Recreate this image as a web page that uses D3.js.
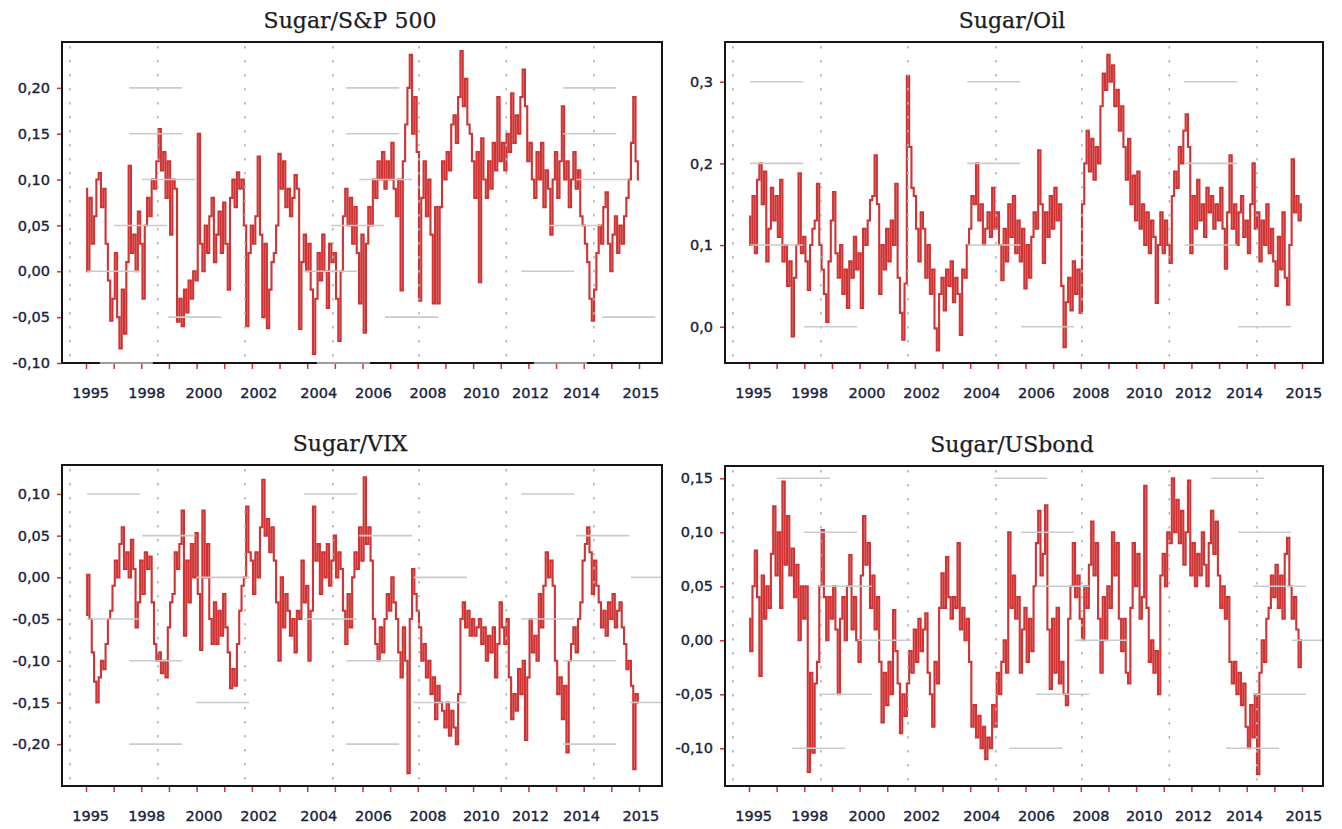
<!DOCTYPE html>
<html>
<head>
<meta charset="utf-8">
<script src="https://cdn.jsdelivr.net/npm/d3@7"></script>
<style>
body{margin:0;background:#fff}
.title{font-family:"DejaVu Serif",serif;font-size:22px;fill:#1c1c24;stroke:#1c1c24;stroke-width:0.25}
.tick text{font-family:"DejaVu Sans",sans-serif;font-size:14.5px;fill:#17223c;stroke:#17223c;stroke-width:0.35}
</style>
</head>
<body>
<div id="chart"></div>
<script>
//monthly values, first one is January 1995
let startYear=1995
let xLabels=["1995","1998","2000","2002","2004","2006","2008","2010","2012","2014","2015"]
//where the labels sit on the year axis (they are not on their own year in the original)
let xLabelAt=[1995.15,1997.18,1999.25,2001.23,2003.4,2005.38,2007.35,2009.28,2011.06,2012.9,2015.05]
let xTickYears=d3.range(1995,2016)
let dottedYears=[1994.42,1997.6,2000.75,2003.93,2007.04,2010.2,2013.37]

let sugarSp500=[
 0.09,0.0,0.08,0.03,0.06,0.10,0.107,0.07,0.09,0.03,-0.01,-0.054,
 -0.03,0.02,-0.05,-0.084,-0.02,-0.068,0.01,0.115,0.02,0.04,0.0,0.065,
 0.03,-0.03,0.05,0.08,0.06,0.10,0.09,0.12,0.155,0.11,0.13,0.08,
 0.12,0.04,0.10,0.09,-0.055,-0.03,-0.06,-0.02,-0.045,-0.01,-0.03,0.0,
 -0.01,0.15,0.03,0.0,0.05,0.02,0.06,0.08,0.01,0.04,0.065,0.02,
 0.075,0.03,-0.02,0.08,0.10,0.07,0.108,0.09,0.10,0.05,-0.06,0.02,
 0.05,0.03,0.06,0.125,0.04,-0.05,0.03,-0.062,-0.02,0.01,0.02,0.05,
 0.128,0.09,0.12,0.07,0.09,0.06,0.08,0.105,0.09,-0.063,0.01,0.04,
 0.0,0.03,-0.02,-0.09,-0.03,0.02,-0.01,0.04,0.0,-0.04,0.03,0.01,
 0.02,-0.03,-0.076,0.0,0.06,0.09,0.05,0.08,0.03,0.07,0.02,-0.035,
 0.04,-0.067,0.03,0.07,0.05,0.10,0.08,0.12,0.10,0.13,0.09,0.12,
 0.10,0.14,0.09,0.06,0.10,-0.021,0.12,0.16,0.20,0.236,0.15,0.19,
 0.13,-0.032,0.08,0.12,0.06,0.10,0.04,-0.035,0.07,-0.035,0.07,0.12,
 0.10,0.13,0.11,0.16,0.17,0.14,0.19,0.24,0.18,0.21,0.16,0.15,
 0.12,0.08,0.13,-0.012,0.145,0.10,0.08,0.12,0.09,0.14,0.11,0.19,
 0.12,0.14,0.11,0.15,0.13,0.194,0.14,0.17,0.15,0.19,0.22,0.18,
 0.12,0.14,0.10,0.08,0.13,0.10,0.14,0.07,0.11,0.09,0.04,0.10,
 0.13,0.08,0.12,0.18,0.10,0.12,0.07,0.10,0.13,0.09,0.11,0.06,
 0.05,0.03,0.01,-0.03,-0.054,-0.02,0.02,0.05,0.03,0.07,0.086,0.03,
 0.0,0.04,0.06,0.02,0.05,0.03,0.06,0.08,0.10,0.14,0.19,0.12,
 0.10]

let sugarOil=[
 0.135,0.10,0.16,0.09,0.18,0.20,0.15,0.19,0.08,0.12,0.17,0.13,
 0.16,0.11,0.18,0.08,0.10,0.05,0.08,-0.012,0.06,0.10,0.188,0.09,
 0.11,0.08,0.045,0.10,0.12,0.13,0.175,0.10,0.07,0.04,0.006,0.08,
 0.13,0.165,0.09,0.06,0.10,0.04,0.07,0.023,0.08,0.06,0.11,0.07,
 0.09,0.023,0.12,0.10,0.13,0.155,0.16,0.21,0.15,0.04,0.10,0.07,
 0.12,0.08,0.13,0.10,0.175,0.06,0.017,-0.016,0.053,0.307,0.22,0.17,
 0.16,0.12,0.08,0.14,0.12,0.06,0.10,0.04,0.07,-0.002,-0.029,0.04,
 0.06,0.02,0.07,0.05,0.08,0.03,0.06,0.04,-0.01,0.07,0.06,0.10,
 0.12,0.16,0.15,0.20,0.13,0.15,0.10,0.12,0.14,0.11,0.17,0.12,
 0.14,0.10,0.057,0.12,0.08,0.15,0.11,0.16,0.09,0.13,0.08,0.12,
 0.047,0.10,0.06,0.11,0.14,0.12,0.216,0.15,0.078,0.14,0.11,0.16,
 0.12,0.17,0.13,0.15,0.05,-0.025,0.03,0.06,0.02,0.08,0.04,0.07,
 0.017,0.15,0.20,0.24,0.19,0.23,0.18,0.22,0.20,0.27,0.31,0.29,
 0.333,0.30,0.32,0.27,0.29,0.24,0.27,0.22,0.18,0.23,0.15,0.185,
 0.13,0.19,0.12,0.15,0.10,0.14,0.09,0.13,0.11,0.029,0.10,0.14,
 0.09,0.13,0.10,0.078,0.16,0.19,0.17,0.22,0.20,0.24,0.26,0.22,
 0.09,0.16,0.12,0.18,0.13,0.15,0.11,0.17,0.14,0.16,0.12,0.15,
 0.13,0.17,0.12,0.071,0.14,0.21,0.12,0.15,0.10,0.14,0.16,0.11,
 0.13,0.09,0.15,0.20,0.12,0.14,0.08,0.13,0.10,0.15,0.09,0.12,
 0.08,0.05,0.11,0.07,0.14,0.06,0.027,0.10,0.205,0.14,0.16,0.13,
 0.15]

let sugarVix=[
 -0.045,0.003,-0.05,-0.09,-0.125,-0.15,-0.12,-0.10,-0.11,-0.08,-0.05,-0.04,
 -0.01,0.02,0.0,0.04,0.06,0.01,0.03,0.0,0.045,0.01,-0.06,-0.03,
 0.02,-0.02,0.03,0.01,0.025,-0.03,-0.08,-0.10,-0.09,-0.115,-0.10,-0.12,
 -0.06,-0.03,-0.02,0.03,0.01,0.04,0.08,-0.07,0.02,-0.03,0.04,0.0,
 0.053,-0.02,-0.087,0.08,0.0,0.04,-0.05,-0.08,-0.03,-0.08,-0.04,-0.07,
 -0.02,-0.06,-0.09,-0.133,-0.11,-0.13,-0.08,-0.04,-0.01,0.0,0.085,0.03,
 0.02,-0.02,0.03,0.0,0.06,0.117,0.05,0.07,0.03,0.06,0.02,-0.03,
 -0.10,0.0,-0.06,-0.02,-0.04,-0.07,-0.05,-0.09,-0.04,-0.05,0.02,-0.03,
 -0.01,-0.10,-0.04,0.085,0.02,0.04,-0.02,0.03,0.0,0.04,-0.01,0.02,
 0.05,0.0,0.03,0.01,-0.04,-0.08,-0.02,-0.06,0.0,0.03,0.01,0.06,
 0.02,0.12,0.04,0.06,0.02,-0.05,-0.08,-0.10,-0.06,-0.09,-0.05,-0.02,
 -0.04,0.0,-0.03,-0.05,-0.09,-0.12,-0.06,-0.10,-0.235,-0.05,0.01,-0.02,
 -0.04,-0.06,-0.10,-0.08,-0.12,-0.10,-0.14,-0.12,-0.17,-0.13,-0.15,-0.16,
 -0.18,-0.15,-0.19,-0.16,-0.18,-0.20,-0.14,-0.05,-0.03,-0.06,-0.04,-0.07,
 -0.05,-0.07,-0.06,-0.05,-0.08,-0.06,-0.10,-0.07,-0.09,-0.06,-0.12,-0.08,
 -0.03,-0.06,-0.08,-0.05,-0.12,-0.17,-0.14,-0.16,-0.11,-0.14,-0.10,-0.195,
 -0.12,-0.05,-0.09,-0.07,-0.10,-0.02,-0.06,-0.01,0.03,0.0,0.02,-0.01,
 -0.10,-0.14,-0.12,-0.17,-0.13,-0.21,-0.10,-0.08,-0.06,-0.09,-0.05,-0.03,
 0.02,0.04,0.06,0.03,-0.02,0.02,-0.01,-0.03,-0.06,-0.04,-0.07,-0.03,
 -0.05,-0.02,-0.06,-0.04,-0.03,-0.06,-0.08,-0.11,-0.10,-0.13,-0.23,-0.14,
 -0.15]

let sugarUsbond=[
 0.02,-0.01,0.05,0.083,0.04,-0.033,0.06,0.02,0.05,0.03,0.08,0.124,
 0.06,0.10,0.03,0.147,0.07,0.115,0.06,0.085,0.04,0.07,0.0,0.05,
 0.02,0.05,-0.122,-0.03,-0.104,-0.04,-0.02,0.05,0.102,0.04,0.0,0.04,
 0.02,0.05,0.01,-0.05,0.02,0.04,0.0,0.05,0.079,0.01,0.04,0.0,
 -0.02,0.06,0.115,0.07,0.09,0.03,0.06,0.01,0.04,-0.02,-0.076,-0.03,
 -0.06,-0.02,-0.05,0.028,-0.01,-0.04,-0.086,-0.05,-0.07,-0.04,-0.01,-0.03,
 0.01,-0.02,0.02,-0.01,0.01,0.025,-0.03,-0.05,-0.08,-0.02,-0.04,0.03,
 0.062,0.03,0.077,0.04,0.02,0.04,0.03,0.09,0.01,0.03,0.0,0.02,
 -0.02,-0.08,-0.06,-0.09,-0.07,-0.10,-0.08,-0.11,-0.09,-0.10,-0.06,-0.08,
 -0.03,-0.05,-0.02,0.0,-0.03,0.10,0.03,0.06,0.02,0.04,-0.03,0.01,
 0.03,-0.02,0.02,-0.01,0.05,0.09,0.12,0.06,0.08,0.125,0.01,-0.045,
 0.02,-0.03,0.03,-0.04,-0.02,-0.05,-0.06,0.02,0.05,0.09,0.04,0.06,
 0.02,0.0,0.05,0.03,0.07,0.11,0.06,0.09,0.02,-0.03,0.04,0.0,
 0.05,0.03,0.10,0.06,0.09,0.02,-0.01,0.02,-0.03,-0.04,0.03,0.09,
 0.05,0.08,0.02,0.04,0.143,0.03,-0.02,0.0,-0.03,-0.01,-0.05,0.06,
 0.08,0.05,0.10,0.09,0.15,0.10,0.13,0.09,0.12,0.07,0.10,0.148,
 0.06,0.09,0.05,0.08,0.06,0.10,0.07,0.05,0.09,0.12,0.08,0.11,
 0.06,0.03,0.05,0.02,0.04,-0.02,-0.04,-0.02,-0.05,-0.03,-0.06,-0.04,
 -0.08,-0.10,-0.06,-0.09,-0.05,-0.124,-0.03,0.0,-0.02,0.02,0.03,0.06,
 0.04,0.07,0.03,0.06,0.02,0.08,0.095,0.05,0.02,0.04,0.01,-0.025,
 0.0]

//y ticks of each panel
let sp500Ticks=[-0.10,-0.05,0,0.05,0.10,0.15,0.20]
let oilTicks=[0,0.1,0.2,0.3]
let vixTicks=[-0.20,-0.15,-0.10,-0.05,0,0.05,0.10]
let usbondTicks=[-0.10,-0.05,0,0.05,0.10,0.15]

//the original only shows short pieces of the horizontal grid: [tick, year where the first piece starts]
let sp500Pieces=[[-0.10,1995.5],[-0.05,1997.97],[0,1995.04],[0.05,1996.01],[0.10,1997.03],[0.15,1996.56],[0.20,1996.56]]
let oilPieces=[[0,1996.99],[0.1,1995.04],[0.2,1995.04],[0.3,1995.04]]
let vixPieces=[[-0.20,1996.56],[-0.15,1998.98],[-0.10,1996.56],[-0.05,1995.04],[0,1999.01],[0.05,1997.03],[0.10,1995.04]]
let usbondPieces=[[-0.10,1996.56],[-0.05,1997.53],[0,1998.94],[0.05,1997.53],[0.10,1996.99],[0.15,1996.01]]

let locale=d3.formatLocale({decimal:",",thousands:".",grouping:[3],currency:["",""],minus:"-"})

let panels=[
    {title:"Sugar/S&P 500",values:sugarSp500,ticks:sp500Ticks,pieces:sp500Pieces,domain:[-0.10,0.25],fmt:".2f",left:62,top:42,right:662,bottom:363},
    {title:"Sugar/Oil",values:sugarOil,ticks:oilTicks,pieces:oilPieces,domain:[-0.0444,0.3486],fmt:".1f",left:725,top:42,right:1323,bottom:363},
    {title:"Sugar/VIX",values:sugarVix,ticks:vixTicks,pieces:vixPieces,domain:[-0.2502,0.1347],fmt:".2f",left:62,top:465,right:662,bottom:786},
    {title:"Sugar/USbond",values:sugarUsbond,ticks:usbondTicks,pieces:usbondPieces,domain:[-0.1349,0.1614],fmt:".2f",left:725,top:466,right:1323,bottom:786}
]

let red="#d03333"
let svg=d3.select("#chart").append("svg").attr("width",1342).attr("height",829)

panels.forEach(p=>drawPanel(p))

function drawPanel(p){
    let g=svg.append("g")
    let x=d3.scaleLinear().domain([1995,2015]).range([p.left+24,p.left+577])
    let y=d3.scaleLinear().domain(p.domain).range([p.bottom,p.top])
    let data=p.values.map((v,i)=>({t:startYear+i/12,v:v}))

    //title
    g.append("text").attr("class","title").attr("x",(p.left+p.right)/2-12).attr("y",p.top-14).attr("text-anchor","middle").text(p.title)

    //the series
    let line=d3.line().x(d=>x(d.t)).y(d=>y(d.v)).curve(d3.curveStep)
    g.append("path").datum(data).attr("d",line).attr("fill","none").attr("stroke",red).attr("stroke-width",2.1)

    //frame
    g.append("rect").attr("x",p.left).attr("y",p.top).attr("width",p.right-p.left).attr("height",p.bottom-p.top)
        .attr("fill","none").attr("stroke","#151515").attr("stroke-width",2)

    //dotted vertical grid
    g.selectAll(".vgrid").data(dottedYears).enter().append("line").attr("class","vgrid")
        .attr("x1",d=>x(d)).attr("x2",d=>x(d)).attr("y1",p.top+4).attr("y2",p.bottom-4)
        .attr("stroke","#b4b4b4").attr("stroke-width",1.6).attr("stroke-dasharray","2.5,11.5")

    //short gray pieces of horizontal grid, three per tick
    let pieces=[]
    p.pieces.forEach(([v,start])=>{
        for(let k=0;k<3;k++){
            let a=x(start+k*7.85), b=Math.min(x(start+k*7.85+1.92),p.right-1)
            if(a<p.right-2) pieces.push({v:v,a:a,b:b})
        }
    })
    g.selectAll(".piece").data(pieces).enter().append("line").attr("class","piece")
        .attr("x1",d=>d.a).attr("x2",d=>d.b).attr("y1",d=>y(d.v)).attr("y2",d=>y(d.v))
        .attr("stroke","#cbcbcb").attr("stroke-width",1.6)

    //y axis
    let fmt=locale.format(p.fmt)
    let axisY=d3.axisLeft(y).tickValues(p.ticks).tickFormat(fmt).tickSize(4).tickPadding(7)
    let gy=g.append("g").attr("transform","translate("+(p.left-1)+",0)").call(axisY)
    gy.select(".domain").remove()
    gy.selectAll(".tick line").attr("stroke",red).attr("stroke-width",1.5)

    //x axis: yearly red marks and labels
    let axisX=d3.axisBottom(x).tickValues(xTickYears).tickFormat("").tickSize(5)
    let gx=g.append("g").attr("transform","translate(0,"+(p.bottom+1)+")").call(axisX)
    gx.select(".domain").remove()
    gx.selectAll(".tick line").attr("stroke",red).attr("stroke-width",1.5)

    let axisLabels=d3.axisBottom(x).tickValues(xLabelAt).tickFormat((d,i)=>xLabels[i]).tickSize(0).tickPadding(25)
    let gl=g.append("g").attr("transform","translate(0,"+p.bottom+")").call(axisLabels)
    gl.select(".domain").remove()
}
</script>
</body>
</html>
